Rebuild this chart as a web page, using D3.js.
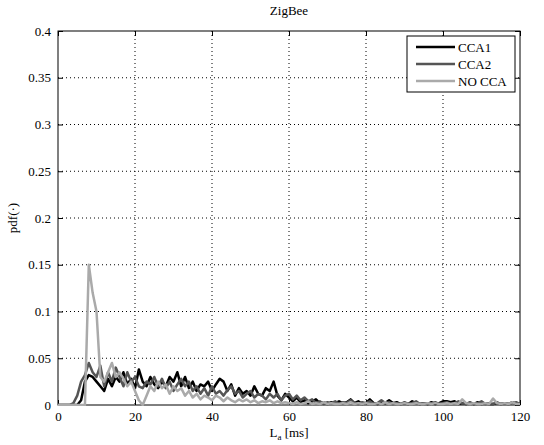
<!DOCTYPE html>
<html>
<head>
<meta charset="utf-8">
<script src="https://cdn.jsdelivr.net/npm/d3@7"></script>
<style>
  body { margin: 0; background: #fff; }
  svg text { font-family: "Liberation Serif", "Times New Roman", serif !important; }
</style>
</head>
<body>
<div id="chart"></div>
<script>
// latency bins, 1 ms each, 0..120
var latency = d3.range(0, 121);

var cca1 = [
  0, 0, 0, 0, 0, 0, 0.005, 0.025, 0.032, 0.03,
  0.025, 0.02, 0.015, 0.028, 0.02, 0.03, 0.025, 0.035, 0.022, 0.028,
  0.018, 0.038, 0.025, 0.02, 0.03, 0.022, 0.018, 0.025, 0.02, 0.03,
  0.025, 0.035, 0.02, 0.03, 0.018, 0.025, 0.015, 0.022, 0.02, 0.025,
  0.015, 0.022, 0.028, 0.025, 0.015, 0.022, 0.01, 0.018, 0.012, 0.015,
  0.01, 0.02, 0.012, 0.01, 0.018, 0.015, 0.025, 0.01, 0.005, 0.012,
  0.008, 0.004, 0.008, 0.003, 0.005, 0.002, 0.004, 0.006, 0.002, 0.003,
  0.001, 0.003, 0.002, 0.004, 0.002, 0.003, 0.006, 0.002, 0.004, 0.001,
  0.002, 0.006, 0.002, 0.001, 0.003, 0.002, 0.005, 0.002, 0.003, 0.001,
  0.002, 0.001, 0.004, 0.002, 0.001, 0.002, 0.001, 0.003, 0.001, 0.002,
  0.004, 0.004, 0.003, 0.004, 0.001, 0.002, 0.001, 0.002, 0.001, 0.003,
  0.001, 0.002, 0.001, 0.001, 0.002, 0.001, 0.002, 0.001, 0.003, 0.001,
  0.002
];

var cca2 = [
  0, 0, 0, 0, 0.002, 0.01, 0.025, 0.032, 0.045, 0.035,
  0.03, 0.042, 0.02, 0.035, 0.025, 0.04, 0.03, 0.02, 0.035, 0.025,
  0.03, 0.02, 0.018, 0.025, 0.022, 0.03, 0.02, 0.028, 0.018, 0.025,
  0.015, 0.022, 0.028, 0.02, 0.025, 0.015, 0.02, 0.012, 0.018, 0.01,
  0.02, 0.012, 0.015, 0.01, 0.016, 0.02, 0.012, 0.015, 0.008, 0.012,
  0.015, 0.008, 0.012, 0.01, 0.006, 0.012, 0.008, 0.012, 0.005, 0.01,
  0.012, 0.006, 0.01, 0.005, 0.008, 0.004, 0.006, 0.002, 0.004, 0.001,
  0.003, 0.002, 0.004, 0.001, 0.003, 0.002, 0.005, 0.002, 0.001, 0.003,
  0.002, 0.004, 0.001, 0.002, 0.005, 0.002, 0.003, 0.001, 0.002, 0.001,
  0.003, 0.001, 0.002, 0.004, 0.001, 0.002, 0.001, 0.002, 0.003, 0.001,
  0.002, 0.003, 0.001, 0.002, 0.004, 0.002, 0.001, 0.003, 0.001, 0.002,
  0.004, 0.001, 0.002, 0.001, 0.003, 0.001, 0.002, 0.001, 0.002, 0.003,
  0.001
];

var noCca = [
  0, 0, 0, 0, 0, 0, 0, 0, 0.15, 0.12,
  0.1, 0.03, 0.025, 0.035, 0.045, 0.03, 0.035, 0.028, 0.02, 0.025,
  0.015, 0.005, 0, 0.01, 0.02, 0.015, 0.025, 0.018, 0.022, 0.012,
  0.02, 0.015, 0.018, 0.01, 0.015, 0.008, 0.012, 0.006, 0.01, 0.008,
  0.005, 0.01, 0.008, 0.004, 0.008, 0.005, 0.003, 0.006, 0.004, 0.006,
  0.003, 0.005, 0.002, 0.004, 0.003, 0.005, 0.002, 0.004, 0.002, 0.003,
  0.002, 0.001, 0.003, 0.001, 0.002, 0.004, 0.001, 0.002, 0.001, 0.003,
  0.001, 0.002, 0.001, 0.001, 0.002, 0.001, 0.003, 0.001, 0.002, 0.001,
  0.002, 0.001, 0.001, 0.002, 0.001, 0.003, 0.001, 0.002, 0.001, 0.001,
  0.002, 0.001, 0.001, 0.002, 0.001, 0.001, 0.002, 0.001, 0.002, 0.001,
  0.001, 0.002, 0.001, 0.002, 0.001, 0.006, 0.002, 0.001, 0.002, 0.001,
  0.001, 0.002, 0.001, 0.007, 0.002, 0.001, 0.002, 0.001, 0.003, 0.001,
  0.001
];

var seriesNames = ['CCA1', 'CCA2', 'NO CCA'];
var seriesColors = ['#000000', '#555555', '#aaaaaa'];
var xTicks = [0, 20, 40, 60, 80, 100, 120];
var yTicks = [0, 0.05, 0.1, 0.15, 0.2, 0.25, 0.3, 0.35, 0.4];

var serif = '"Liberation Serif", "Times New Roman", serif';
var width = 544, height = 445;
var margin = {top: 31, right: 24, bottom: 40, left: 58};
var w = width - margin.left - margin.right;
var h = height - margin.top - margin.bottom;

var svg = d3.select('#chart').append('svg')
    .attr('width', width)
    .attr('height', height)
    .attr('font-family', serif);

var g = svg.append('g')
    .attr('transform', 'translate(' + margin.left + ',' + margin.top + ')');

var x = d3.scaleLinear().domain([0, 120]).range([0, w]);
var y = d3.scaleLinear().domain([0, 0.4]).range([h, 0]);

// dotted grid
g.selectAll('.vgrid').data(xTicks.slice(1, -1)).enter().append('line')
    .attr('x1', function(d) { return x(d); })
    .attr('x2', function(d) { return x(d); })
    .attr('y1', 0).attr('y2', h)
    .attr('stroke', '#000').attr('stroke-width', 1)
    .attr('stroke-dasharray', '1,3');
g.selectAll('.hgrid').data(yTicks.slice(1, -1)).enter().append('line')
    .attr('y1', function(d) { return y(d); })
    .attr('y2', function(d) { return y(d); })
    .attr('x1', 0).attr('x2', w)
    .attr('stroke', '#000').attr('stroke-width', 1)
    .attr('stroke-dasharray', '1,3');

// axes, ticks pointing inward
var fmtY = function(d) { return d === 0 ? '0' : String(d); };
var xAxis = g.append('g').attr('transform', 'translate(0,' + h + ')')
    .call(d3.axisBottom(x).tickValues(xTicks).tickSizeInner(-5).tickSizeOuter(0).tickPadding(7));
var yAxis = g.append('g')
    .call(d3.axisLeft(y).tickValues(yTicks).tickFormat(fmtY).tickSizeInner(-5).tickSizeOuter(0).tickPadding(7));
var xTop = g.append('g')
    .call(d3.axisTop(x).tickValues(xTicks).tickSizeInner(-5).tickSizeOuter(0).tickFormat(''));
var yRight = g.append('g').attr('transform', 'translate(' + w + ',0)')
    .call(d3.axisRight(y).tickValues(yTicks).tickSizeInner(-5).tickSizeOuter(0).tickFormat(''));

[xAxis, yAxis, xTop, yRight].forEach(function(a) {
    a.attr('font-family', serif);
    a.select('.domain').remove();
    a.selectAll('text').attr('font-size', 13).attr('fill', '#000');
});

// box
g.append('rect')
    .attr('width', w).attr('height', h)
    .attr('fill', 'none').attr('stroke', '#000').attr('stroke-width', 1);

// lines
var line = d3.line()
    .x(function(d, i) { return x(latency[i]); })
    .y(function(d) { return y(d); });

g.append('clipPath').attr('id', 'clip')
    .append('rect').attr('width', w).attr('height', h + 2).attr('y', -1);

var data = [cca1, cca2, noCca];
g.append('g').attr('clip-path', 'url(#clip)')
    .selectAll('path').data(data).enter().append('path')
    .attr('d', line)
    .attr('fill', 'none')
    .attr('stroke', function(d, i) { return seriesColors[i]; })
    .attr('stroke-width', 2.5)
    .attr('stroke-linejoin', 'round');

// title and axis labels
svg.append('text')
    .attr('x', margin.left + w / 2).attr('y', 15)
    .attr('text-anchor', 'middle').attr('font-size', 13)
    .text('ZigBee');

var xl = svg.append('text')
    .attr('x', margin.left + w / 2).attr('y', 437)
    .attr('text-anchor', 'middle').attr('font-size', 13);
xl.append('tspan').text('L');
xl.append('tspan').attr('font-size', 9).attr('dy', 3).text('a');
xl.append('tspan').attr('dy', -3).text(' [ms]');

svg.append('text')
    .attr('transform', 'translate(17,' + (margin.top + h / 2) + ') rotate(-90)')
    .attr('text-anchor', 'middle').attr('font-size', 13)
    .text('pdf(\u00b7)');

// legend
var lg = svg.append('g').attr('transform', 'translate(407,36)');
lg.append('rect')
    .attr('width', 108).attr('height', 56)
    .attr('fill', '#fff').attr('stroke', '#000').attr('stroke-width', 1);
var items = lg.selectAll('.item').data(seriesNames).enter().append('g')
    .attr('transform', function(d, i) { return 'translate(0,' + (11 + i * 17) + ')'; });
items.append('line')
    .attr('x1', 9).attr('x2', 48)
    .attr('stroke', function(d, i) { return seriesColors[i]; })
    .attr('stroke-width', 2.5);
items.append('text')
    .attr('x', 51).attr('y', 4.5)
    .attr('font-size', 13)
    .text(function(d) { return d; });
</script>
</body>
</html>
